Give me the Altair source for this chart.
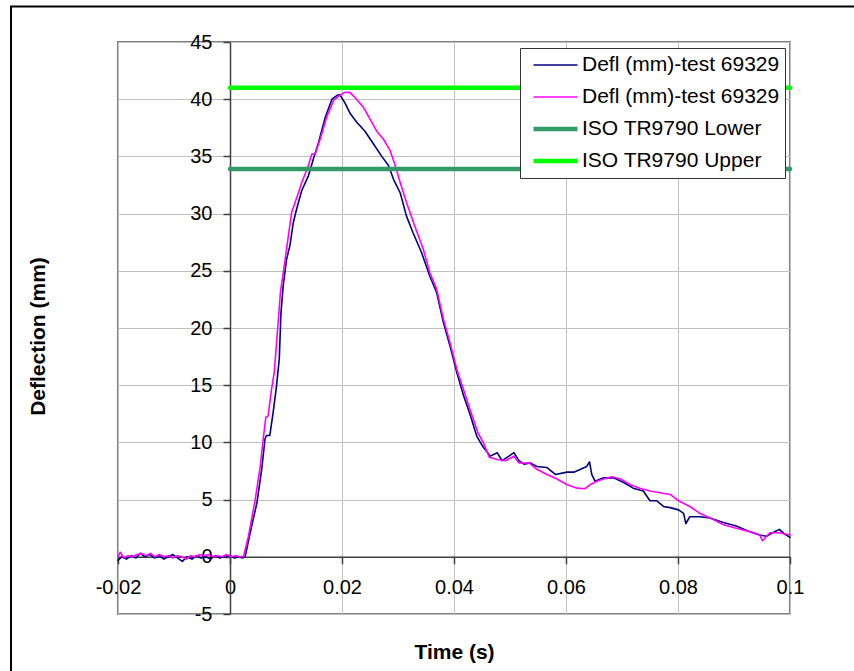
import altair as alt
import pandas as pd

# ---------------- data ----------------
SERIES = ["Defl (mm)-test 69329#1", "Defl (mm)-test 69329#2",
          "ISO TR9790 Lower", "ISO TR9790 Upper"]
COLORS = ["#000080", "#FF00FF", "#339966", "#00FF00"]
WIDTHS = [1.6, 1.6, 4.5, 4.5]

# test 1 (navy): time in ms, deflection in mm
T1_MS = [-20, -19.3, -18.5, -17.6, -16.8, -16, -15.2, -14.3, -13.5, -12.6, -11.8, -11,
         -10.2, -9.4, -8.5, -7.7, -6.8, -6, -5.2, -4.3, -3.5, -2.6, -1.8, -1, 0, 0.8,
         1.6, 2.2, 2.7,
         3.6, 4.8, 5.65, 6.25, 6.5, 7.1, 7.7, 8.3, 8.8, 9.1, 9.5, 10.1, 10.7, 11.3,
         11.9, 12.8, 14.0, 14.9, 15.8, 17.0, 18.2, 19.2, 19.6, 20.5, 21.4, 22.6, 24.1,
         25.6, 27.1, 28.3, 29.2, 30.4, 31.5, 32.7, 34.2, 35.7, 36.9, 38.1, 39.3, 40.5,
         41.7, 42.9, 44.1, 45.2, 46.5, 47.7, 48.6, 49.8, 50.7, 51.6, 52.5, 53.6, 54.8,
         56.6, 58.1, 60.2, 61.4, 62.6, 63.7, 64.2, 64.6, 65.2, 66.7, 68.5, 70.3, 72.0,
         73.8, 75.0, 76.2, 77.4, 78.6, 80.1, 81.0, 81.4, 82.1, 83.9, 85.7, 88.1, 90.4,
         92.8, 94.6, 95.8, 96.9, 98.1, 99.0, 100]
D1 = [-0.3, 0.0, -0.2, 0.1, -0.1, 0.3, 0.0, 0.2, -0.1, 0.1, -0.2, 0.0,
      0.2, -0.1, -0.4, 0.0, -0.2, 0.1, -0.1, 0.0, -0.2, 0.1, -0.1, 0.0, 0.1, -0.1,
      0.0, -0.1, 0.0,
      2.1, 4.7, 7.6, 10.3, 10.6, 10.6, 12.6, 14.9, 17.3, 21.3, 23.7, 26.0, 27.2, 29.2,
      30.4, 32.0, 33.3, 34.8, 36.2, 38.4, 40.0, 40.35, 40.4, 39.7, 38.8, 38.0, 37.2,
      36.1, 35.0, 34.2, 33.0, 31.8, 29.8, 28.3, 26.6, 24.5, 23.1, 20.5, 18.4, 16.1,
      14.1, 12.4, 10.5, 9.6, 8.8, 9.1, 8.4, 8.8, 9.1, 8.4, 8.1, 8.2, 7.9,
      7.8, 7.2, 7.4, 7.4, 7.65, 7.9, 8.3, 7.2, 6.6, 6.9, 6.9, 6.5, 6.0,
      5.75, 4.9, 4.9, 4.4, 4.3, 4.1, 3.8, 2.9, 3.5, 3.5, 3.4, 3.0, 2.7,
      2.2, 1.9, 1.8, 2.1, 2.4, 2.0, 1.7]

# test 2 (magenta)
T2_MS = [-20, -19.6, -19.0, -18.2, -17.4, -16.6, -15.8, -15, -14.2, -13.4, -12.6, -11.8,
         -11, -10.2, -9.4, -8.6, -7.8, -7, -6.2, -5.4, -4.6, -3.8, -3, -2.2, -1.4, -0.6,
         0.2, 1.0, 1.8, 2.4,
         3.3, 4.5, 5.4, 6.0, 6.4, 6.8, 7.4, 7.9, 8.6, 9.0, 9.5, 10.1, 11.0, 12.2, 12.8,
         14.0, 14.6, 15.2, 16.1, 17.3, 18.5, 19.6, 20.5, 21.4, 22.6, 23.8, 25.0, 26.2,
         27.4, 28.6, 29.5, 30.4, 31.5, 33.0, 34.5, 35.7, 36.9, 38.1, 39.3, 40.5, 41.7,
         42.9, 44.3, 45.2, 46.3, 47.7, 49.2, 50.7, 51.6, 53.4, 54.8, 56.6, 58.4, 60.2,
         62.0, 63.4, 64.3, 65.5, 66.7, 68.2, 69.7, 71.5, 73.2, 75.0, 76.8, 78.6, 80.1,
         82.1, 83.9, 85.7, 88.1, 90.4, 92.8, 94.6, 95.1, 96.4, 98.1, 100]
D2 = [0.0, 0.4, -0.1, 0.1, 0.0, 0.2, 0.3, 0.1, 0.3, 0.0, 0.2, 0.0,
      0.1, -0.1, 0.1, 0.0, -0.2, 0.1, 0.0, 0.2, 0.1, 0.2, 0.0, 0.1, 0.0, 0.2,
      0.0, 0.1, 0.0, 0.0,
      1.8, 5.0, 7.9, 10.6, 12.2, 12.3, 14.6, 16.1, 20.5, 23.1, 24.8, 26.9, 30.1, 31.8, 32.7,
      34.2, 35.2, 35.2, 36.5, 38.5, 39.9, 40.35, 40.6, 40.6, 40.0, 39.3, 38.25, 37.2,
      36.5, 35.5, 34.2, 32.7, 31.0, 28.9, 26.9, 24.8, 23.4, 20.8, 18.7, 16.4, 14.6,
      12.8, 10.8, 10.0, 8.7, 8.5, 8.4, 8.8, 8.2, 8.2, 7.65, 7.2, 6.8, 6.3,
      6.0, 5.95, 6.3, 6.6, 6.8, 7.0, 6.8, 6.3, 6.0, 5.75, 5.6, 5.45, 4.9,
      4.4, 3.8, 3.4, 2.8, 2.5, 2.2, 1.9, 1.4, 2.1, 2.1, 1.9]

ISO_T = [0.0, 0.1]
ISO_LOWER = [33.9, 33.9]
ISO_UPPER = [41.0, 41.0]

X_TICKS = [-0.02, 0, 0.02, 0.04, 0.06, 0.08, 0.1]
Y_TICKS = [-5, 0, 5, 10, 15, 20, 25, 30, 35, 40, 45]

# ---------------- table ----------------
rows = []
for t, v in zip(T1_MS, D1):
    rows.append({"t": t / 1000.0, "v": v, "s": SERIES[0]})
for t, v in zip(T2_MS, D2):
    rows.append({"t": t / 1000.0, "v": v, "s": SERIES[1]})
for t, v in zip(ISO_T, ISO_LOWER):
    rows.append({"t": t, "v": v, "s": SERIES[2]})
for t, v in zip(ISO_T, ISO_UPPER):
    rows.append({"t": t, "v": v, "s": SERIES[3]})
df = pd.DataFrame(rows)

FONT = "Liberation Sans"
AXIS_DARK = "#404040"

legend = alt.Legend(
    title=None, orient="none", legendX=402, legendY=6,
    fillColor="white", strokeColor="#333333", padding=5,
    symbolType="stroke", symbolSize=1936, clipHeight=24, rowPadding=8,
    symbolOffset=6, labelOffset=2, labelFontSize=21, labelLimit=400,
    labelColor="black", labelFont=FONT,
    labelExpr="split(datum.label, '#')[0]",
)

lbl = "datum.value < 0 ? '-' + format(-datum.value, '~g') : format(datum.value, '~g')"

lines = alt.Chart(df).mark_line(strokeCap="round", strokeJoin="round").encode(
    x=alt.X("t:Q", title="Time (s)",
            scale=alt.Scale(domain=[-0.02, 0.1], nice=False, zero=False),
            axis=alt.Axis(values=X_TICKS, offset=-57.2, labelExpr=lbl,
                          labelFlush=False, labelOverlap=False,
                          labelFontSize=20, labelPadding=14, labelColor="black",
                          tickSize=7, tickColor=AXIS_DARK, tickWidth=1.5,
                          domainColor=AXIS_DARK, domainWidth=1.5,
                          gridColor="#c0c0c0", gridWidth=1,
                          titleFontSize=21, titleFontWeight="bold", titleColor="black",
                          titleY=102, titleBaseline="alphabetic")),
    y=alt.Y("v:Q", title="Deflection (mm)",
            scale=alt.Scale(domain=[-5, 45], nice=False, zero=False),
            axis=alt.Axis(values=Y_TICKS, offset=-112, labelExpr=lbl,
                          labelFlush=False, labelOverlap=False,
                          labelFontSize=20, labelPadding=11, labelColor="black",
                          tickSize=7, tickColor=AXIS_DARK, tickWidth=1.5,
                          domainColor=AXIS_DARK, domainWidth=1.5,
                          gridColor="#c0c0c0", gridWidth=1,
                          titleFontSize=21, titleFontWeight="bold", titleColor="black",
                          titleAngle=270, titleX=-192, titleY=294,
                          titleBaseline="middle", titleAlign="center")),
    color=alt.Color("s:O", scale=alt.Scale(type="ordinal", domain=SERIES, range=COLORS),
                    legend=legend),
    strokeWidth=alt.StrokeWidth("s:O", scale=alt.Scale(type="ordinal", domain=SERIES,
                                                       range=WIDTHS),
                                legend=legend),
)

frame_data = pd.DataFrame({"k": [0]})
border_v = alt.Chart(frame_data).mark_rule(color="black", strokeWidth=2).encode(
    x=alt.value(-107), y=alt.value(-35.5), y2=alt.value(700))
border_h = alt.Chart(frame_data).mark_rule(color="black", strokeWidth=2).encode(
    x=alt.value(-108), x2=alt.value(900), y=alt.value(-35.5))

chart = alt.layer(border_v, border_h, lines).properties(
    width=672, height=572,
    autosize=alt.AutoSizeParams(type="none"),
    padding={"left": 118, "top": 42, "right": 64, "bottom": 57},
    background="white",
).configure(font=FONT).configure_view(stroke="#808080", strokeWidth=2)

chart.save("out.html", embed_options={"renderer": "svg", "actions": False})
